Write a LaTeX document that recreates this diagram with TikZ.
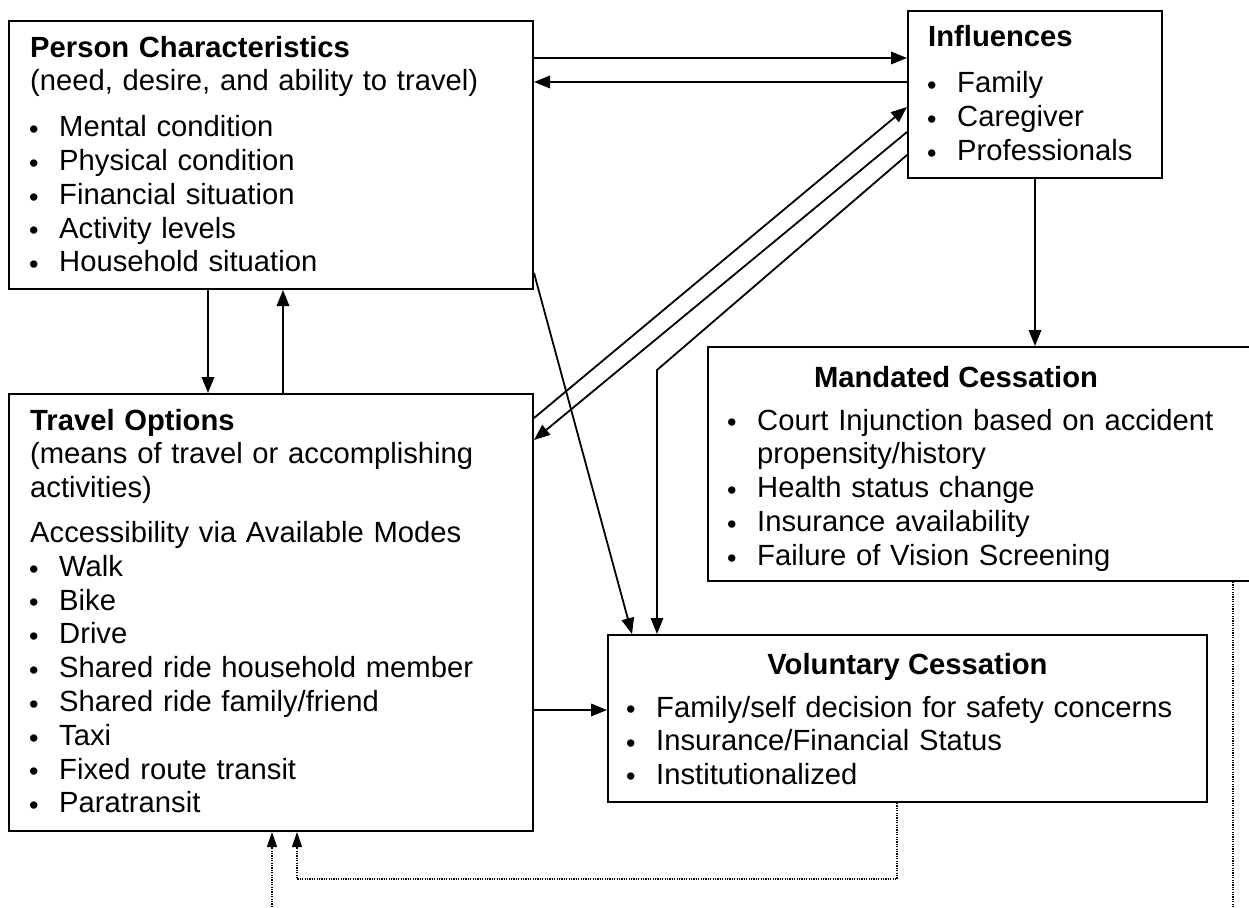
\documentclass[tikz,border=0pt]{standalone}
\usepackage{fontspec}
\setmainfont{Liberation Sans}
\usetikzlibrary{arrows.meta,calc}

\newcommand\fs{\fontsize{29.2}{33.8}\selectfont}
\newcommand\bul{\makebox[29pt][l]{\hspace{-1pt}\fontsize{27}{27}\selectfont\raisebox{-1.8pt}{•}}}

\begin{document}
\begin{tikzpicture}[x=1pt,y=-1pt,
  box/.style={draw,line width=2pt,anchor=north west,inner sep=0pt},
  txt/.style={anchor=base west,inner sep=0pt,text width=#1,align=left,font=\fs},
  ttl/.style={anchor=base,inner sep=0pt,font=\fs\bfseries},
  arr/.style={line width=1.8pt,-{Triangle[length=16pt,width=12.5pt]}},
  dotarr/.style={line width=1.2pt,dash pattern=on 1.2pt off 1.2pt,-{Triangle[length=15pt,width=10pt]}},
  dotline/.style={line width=1.2pt,dash pattern=on 1.2pt off 1.2pt}]

\clip (0,0) rectangle (1249,907);
\fill[white] (0,0) rectangle (1249,907);

% boxes
\node[box,minimum width=524pt,minimum height=268pt] (pc) at (8,20) {};
\node[box,minimum width=254pt,minimum height=167pt] (inf) at (907,10) {};
\node[box,minimum width=524pt,minimum height=437pt] (to) at (8,393) {};
\node[box,minimum width=600pt,minimum height=234pt] (mc) at (707,346) {};
\node[box,minimum width=599pt,minimum height=167pt] (vc) at (607,634) {};

% box texts
\node[txt=490pt] (pc-text) at (30,57) {\textbf{Person Characteristics}\\
(need, desire, and ability to travel)\\[12pt]
\bul Mental condition\\
\bul Physical condition\\
\bul Financial situation\\
\bul Activity levels\\
\bul Household situation};

\node[txt=230pt] (inf-text) at (928,47) {\textbf{Influences}\\[12pt]
\bul Family\\
\bul Caregiver\\
\bul Professionals};

\node[txt=490pt] (to-text) at (30,430) {\textbf{Travel Options}\\
(means of travel or accomplishing\\
activities)\\[11pt]
Accessibility via Available Modes\\
\bul Walk\\
\bul Bike\\
\bul Drive\\
\bul Shared ride household member\\
\bul Shared ride family/friend\\
\bul Taxi\\
\bul Fixed route transit\\
\bul Paratransit};

\node[ttl] (mc-title) at (956,387) {Mandated Cessation};
\node[txt=500pt] (mc-text) at (728,430) {\bul Court Injunction based on accident\\
\hspace*{29pt}propensity/history\\
\bul Health status change\\
\bul Insurance availability\\
\bul Failure of Vision Screening};

\node[ttl] (vc-title) at ($(vc.north)+(0,40)$) {Voluntary Cessation};
\node[txt=560pt,font=\fontsize{29.2}{33.5}\selectfont] (vc-text) at (627,717) {\bul Family/self decision for safety concerns\\
\bul Insurance/Financial Status\\
\bul Institutionalized};

% connectors
\draw[arr] ($(pc.north east)+(0,38)$) -- ($(inf.north west)+(0,48)$);
\draw[arr] ($(inf.north west)+(0,72)$) -- ($(pc.north east)+(0,62)$);
\draw[arr] ($(to.north east)+(0,25)$) -- ($(inf.north west)+(0,97)$);
\draw[arr] ($(inf.north west)+(0,122)$) -- ($(to.north east)+(0,47)$);
\coordinate (kink) at ($(vc.north west)+(50,-264)$);
\draw[arr] ($(inf.north west)+(0,145)$) -- (kink) -- (kink |- vc.north);
\draw[arr] ($(pc.north east)+(0,253)$) -- ($(vc.north west)+(25,0)$);
\draw[arr] (inf.south) -- (inf.south |- mc.north);
\draw[arr] ($(pc.south west)+(200,0)$) -- ($(to.north west)+(200,0)$);
\draw[arr] ($(to.north west)+(275,0)$) -- ($(pc.south west)+(275,0)$);
\draw[arr] ($(to.north east)+(0,317)$) -- ($(vc.north west)+(0,76)$);

% dotted feedback lines
\coordinate (loop) at ($(vc.south west)+(290,76)$);
\draw[dotarr] ($(vc.south west)+(290,0)$) -- (loop) -| ($(to.south west)+(289,0)$);
\coordinate (inA) at (272,907);
\draw[dotarr] (inA) -- ($(to.south west)+(264,0)$);
\coordinate (outB) at (1233,907);
\draw[dotline] ($(mc.south west)+(526,0)$) -- (outB);
\end{tikzpicture}
\end{document}
